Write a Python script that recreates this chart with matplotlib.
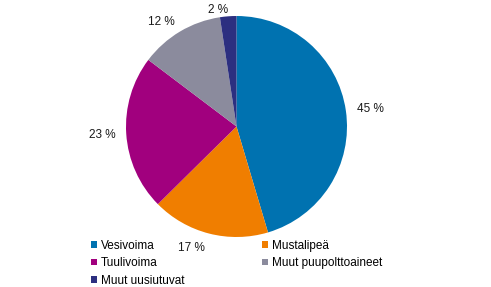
import matplotlib
matplotlib.use("Agg")
import matplotlib.pyplot as plt
from matplotlib.patches import Patch

plt.rcParams['font.family'] = ['Liberation Sans', 'DejaVu Sans']

# shares of renewable energy sources (%)
sources = ['Vesivoima', 'Mustalipeä', 'Tuulivoima', 'Muut puupolttoaineet', 'Muut uusiutuvat']
shares = [45.4, 17.2, 22.7, 12.3, 2.4]
pct_labels = ['45 %', '17 %', '23 %', '12 %', '2 %']
colors = ['#0072B0', '#F07E00', '#A1007E', '#8B8B9D', '#2C2F80']

W, H = 491, 287
cx, cy = 236.5, 126.5  # pie centre in pixels from top-left
fig = plt.figure(figsize=(W / 100, H / 100), dpi=100)
ax = fig.add_axes([0, 0, 1, 1])

wedges, texts = ax.pie(shares, labels=pct_labels, colors=colors, startangle=90,
                       counterclock=False, radius=110.5, labeldistance=1.1,
                       textprops={'fontsize': 8.5, 'color': '#1a1a1a'})
# nudge a couple of labels in/out along their ray like in the original
for t, k in [(texts[1], 1.035), (texts[4], 0.965)]:
    x, y = t.get_position()
    t.set_position((x * k, y * k))

ax.set_xlim(-cx, W - cx)
ax.set_ylim(-(H - cy), cy)
ax.set_aspect('equal')
ax.axis('off')

# legend fills column-wise, so reorder to get the row layout
order = [0, 2, 4, 1, 3]
handles = [Patch(facecolor=colors[i], edgecolor='none') for i in order]
fig.legend(handles, [sources[i] for i in order], ncol=2, loc='upper left',
           bbox_to_anchor=(91 / W, 1 - 240 / H), frameon=False, fontsize=8.5,
           handlelength=0.5, handleheight=0.5, handletextpad=0.35,
           labelspacing=0.45, columnspacing=6.6, borderpad=0, borderaxespad=0)

fig.savefig('out.png', dpi=100)
